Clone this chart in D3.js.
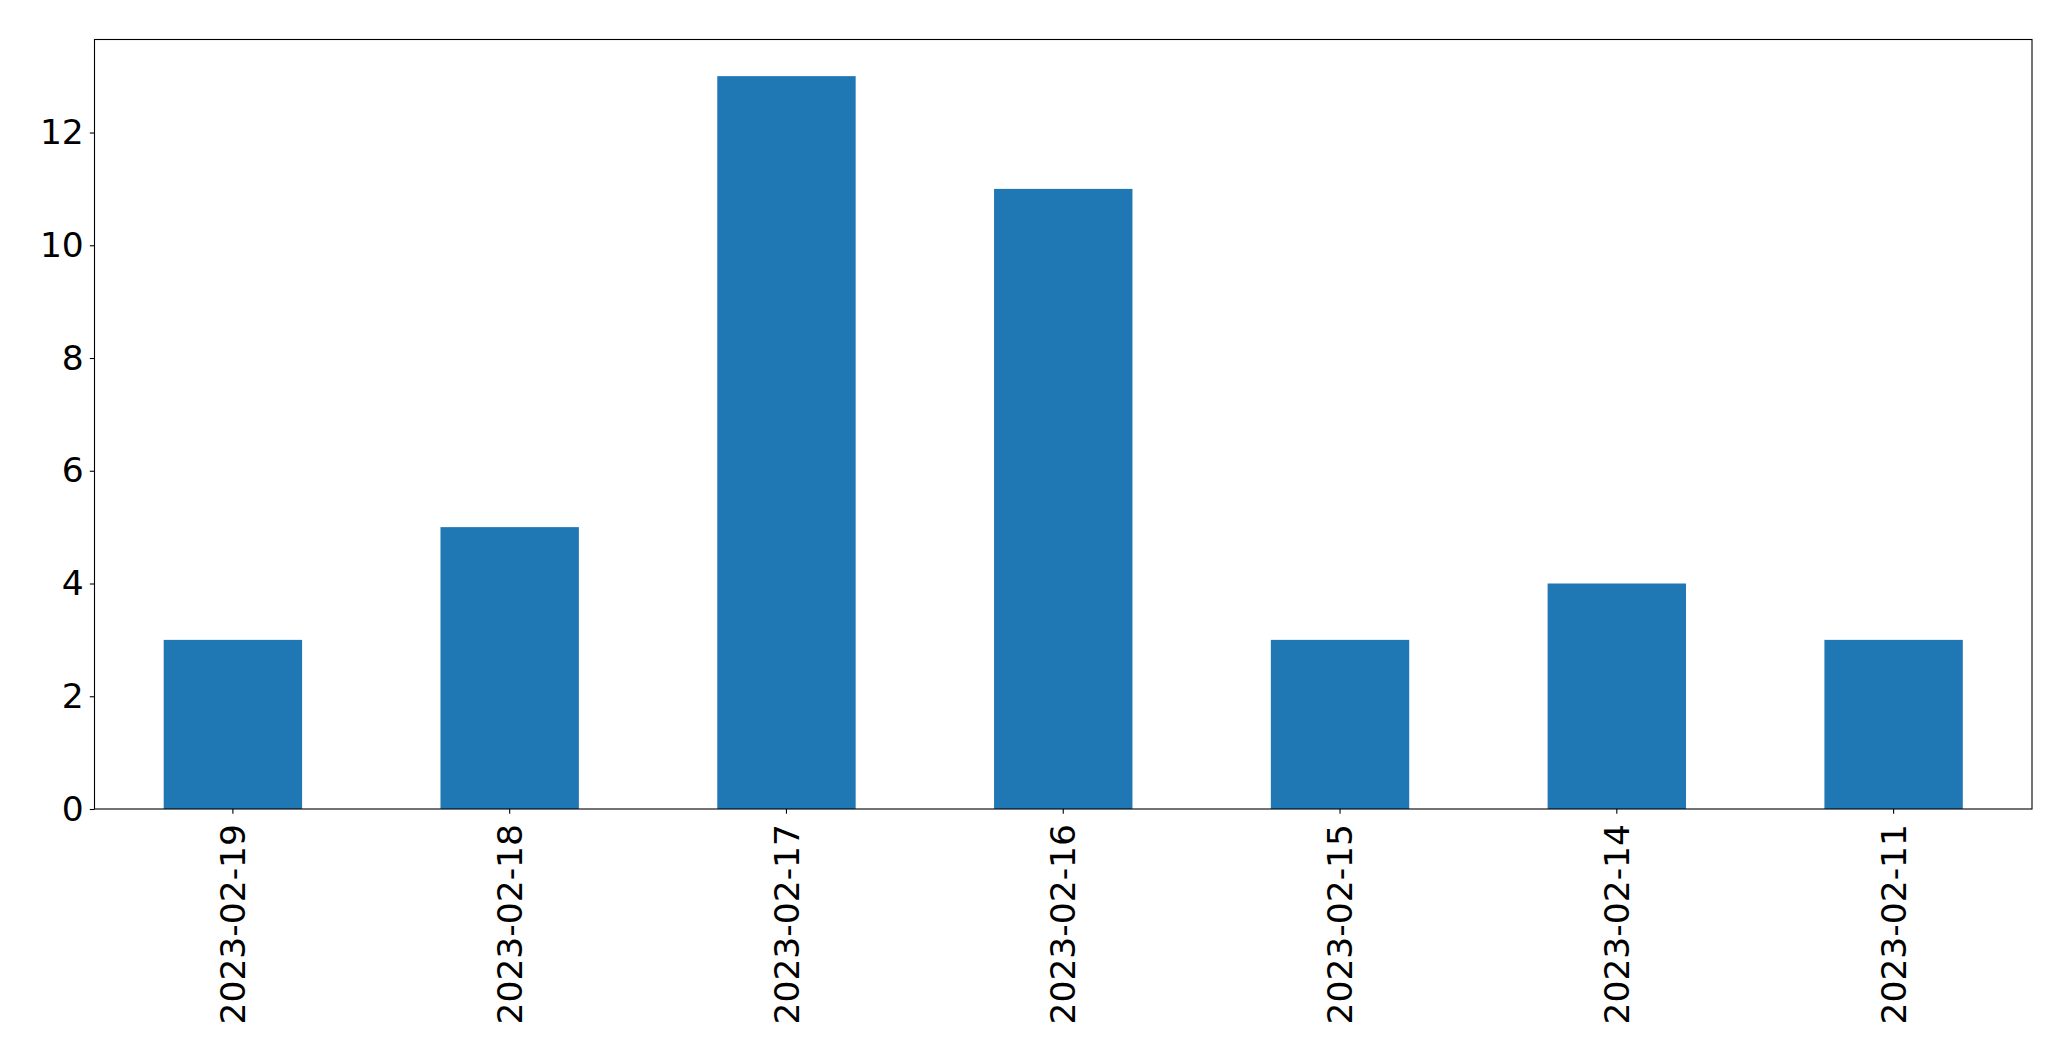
<!DOCTYPE html>
<html>
<head>
<meta charset="utf-8">
<script src="https://cdn.jsdelivr.net/npm/d3@7"></script>
<style>
  html, body { margin: 0; padding: 0; background: #fff; }
  svg { display: block; }
  text { font-family: "DejaVu Sans", sans-serif; fill: #000; }
</style>
</head>
<body>
<svg id="chart" width="2071" height="1061"></svg>
<script>
const categories = ["2023-02-19", "2023-02-18", "2023-02-17", "2023-02-16", "2023-02-15", "2023-02-14", "2023-02-11"];
const values = [3, 5, 13, 11, 3, 4, 3];
const yTicks = [0, 2, 4, 6, 8, 10, 12];

const W = 2071, H = 1061;
const m = { left: 94.5, right: 2032, top: 39.5, bottom: 809 };
const svg = d3.select("#chart");

const x = d3.scaleBand().domain(categories).range([m.left, m.right]).paddingInner(0.5).paddingOuter(0.25);
const yMax = d3.max(values) * 1.05;
const y = d3.scaleLinear().domain([0, yMax]).range([m.bottom, m.top]);

svg.append("g").selectAll("rect").data(values).join("rect")
  .attr("x", (d, i) => x(categories[i]))
  .attr("y", d => y(d))
  .attr("width", x.bandwidth())
  .attr("height", d => y(0) - y(d))
  .attr("fill", "#1f77b4");

const fs = 34.5;
const yAxis = svg.append("g").attr("transform", `translate(${m.left},0)`)
  .call(d3.axisLeft(y).tickValues(yTicks).tickFormat(d3.format("d")).tickSize(4.7).tickPadding(6));
yAxis.select(".domain").remove();
yAxis.selectAll("line").attr("stroke", "#000").attr("stroke-width", 1.1);
yAxis.selectAll("text").style("font-size", fs + "px").style("font-family", "DejaVu Sans");

const xAxis = svg.append("g").attr("transform", `translate(0,${m.bottom})`)
  .call(d3.axisBottom(x).tickSize(4.7).tickPadding(0));
xAxis.select(".domain").remove();
xAxis.selectAll("line").attr("stroke", "#000").attr("stroke-width", 1.1);
xAxis.selectAll("text")
  .style("font-size", fs + "px").style("font-family", "DejaVu Sans")
  .attr("transform", "rotate(-90)")
  .attr("text-anchor", "end")
  .attr("x", -15)
  .attr("y", 0)
  .attr("dy", "0.35em");

svg.append("rect")
  .attr("x", m.left).attr("y", m.top)
  .attr("width", m.right - m.left).attr("height", m.bottom - m.top)
  .attr("fill", "none").attr("stroke", "#000").attr("stroke-width", 1.1);
</script>
</body>
</html>
